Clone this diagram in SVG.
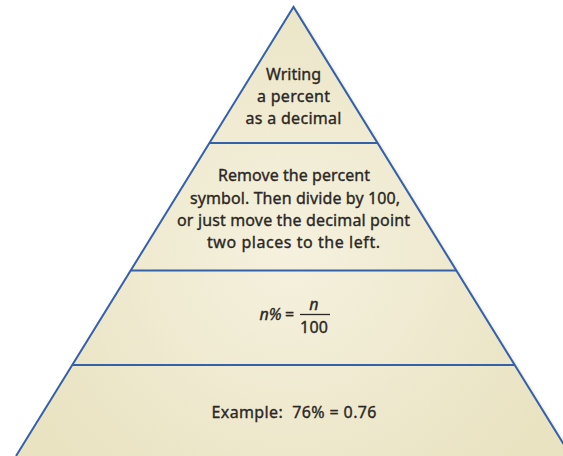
<svg xmlns="http://www.w3.org/2000/svg" width="563" height="456" viewBox="0 0 563 456">
  <defs>
    <radialGradient id="bg" gradientUnits="userSpaceOnUse" cx="290" cy="250" r="300">
      <stop offset="0" stop-color="#f5f1de"/>
      <stop offset="1" stop-color="#e9e3c2"/>
    </radialGradient>
    <filter id="sh" x="-10%" y="-10%" width="120%" height="120%">
      <feDropShadow dx="1.5" dy="1.5" stdDeviation="1.5" flood-color="#000" flood-opacity="0.25"/>
    </filter>
  </defs>
  <style>
    .tier { fill: url(#bg); stroke: none; }
    .edge { fill: none; stroke: #3561a8; stroke-width: 2; stroke-linejoin: miter; }
    .t { font-family: "Noto Sans", "DejaVu Sans", sans-serif; font-size: 16px; fill: #2b2724; stroke: #2b2724; stroke-width: 0.35; text-anchor: middle; }
    .i { font-style: italic; }
  </style>
  <rect width="563" height="456" fill="#ffffff"/>
  <polygon points="293.5,7 571,456 16,456" fill="url(#bg)" filter="url(#sh)"/>
  <g id="tier1">
    <polygon class="tier" points="293.5,7 377.5,143 209.5,143"/>
    <text class="t" x="293.5" y="80" textLength="55" lengthAdjust="spacing">Writing</text>
    <text class="t" x="293.5" y="102" textLength="73" lengthAdjust="spacing">a percent</text>
    <text class="t" x="293.5" y="124" textLength="96" lengthAdjust="spacing">as a decimal</text>
  </g>
  <g id="tier2">
    <polygon class="tier" points="209.5,143 377.5,143 456.3,270.5 130.7,270.5"/>
    <text class="t" x="294" y="181" textLength="152" lengthAdjust="spacing">Remove the percent</text>
    <text class="t" x="295" y="204" textLength="210" lengthAdjust="spacing">symbol. Then divide by 100,</text>
    <text class="t" x="293.5" y="226" textLength="233" lengthAdjust="spacing">or just move the decimal point</text>
    <text class="t" x="293.5" y="248" textLength="173" lengthAdjust="spacing">two places to the left.</text>
  </g>
  <g id="tier3">
    <polygon class="tier" points="130.7,270.5 456.3,270.5 514.7,365 72.3,365"/>
    <text class="t i" x="270.5" y="320">n%</text>
    <text class="t" x="289.5" y="320">=</text>
    <text class="t i" x="314" y="310">n</text>
    <line x1="300" y1="314.5" x2="330" y2="314.5" stroke="#2b2724" stroke-width="1.3"/>
    <text class="t" x="314" y="332.5" textLength="28" lengthAdjust="spacing">100</text>
  </g>
  <g id="tier4">
    <polygon class="tier" points="72.3,365 514.7,365 571,456 16,456"/>
    <text class="t" x="294" y="418" textLength="165" lengthAdjust="spacing" xml:space="preserve">Example:  76% = 0.76</text>
  </g>
  <g id="connectors">
    <path class="edge" d="M16,456 L293.5,7 L571,456"/>
    <line class="edge" x1="209.5" y1="143" x2="377.5" y2="143"/>
    <line class="edge" x1="130.7" y1="270.5" x2="456.3" y2="270.5"/>
    <line class="edge" x1="72.3" y1="365" x2="514.7" y2="365"/>
  </g>
</svg>
